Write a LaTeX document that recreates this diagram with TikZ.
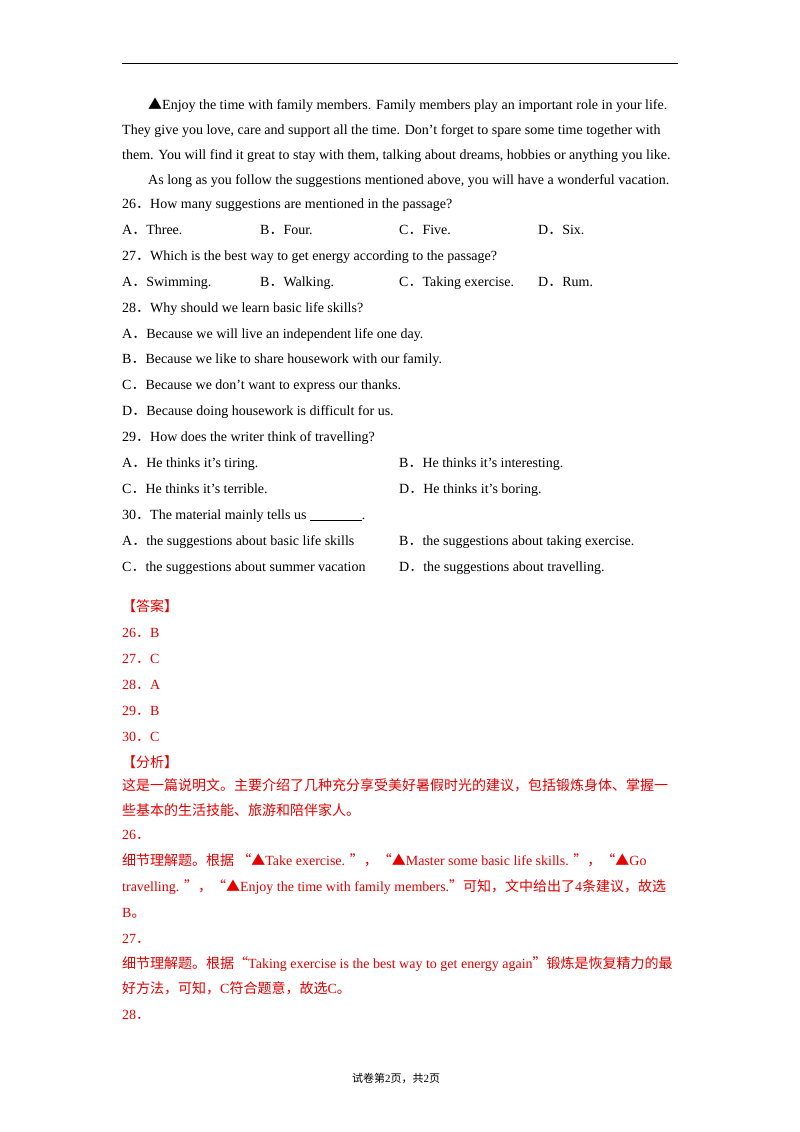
\documentclass[tikz,border=0pt]{standalone}
\usepackage{fontspec}
\setmainfont{Liberation Serif}
\newfontfamily\cj{Noto Sans CJK SC}
\newcommand{\tri}{{\cj ▲}}
\definecolor{ans}{RGB}{230,0,0}
\begin{document}
\begin{tikzpicture}[x=1pt,y=-1pt,
 ln/.style={anchor=base west,inner sep=0pt,font=\fontsize{14}{16}\selectfont},
 rd/.style={ln,text=ans}]
\useasboundingbox (0,0) rectangle (800,1132);
\draw[line width=1pt] (122,64) -- (678,64);
\node[ln] (l1) at (148,109) {\tri Enjoy the time with family members. Family members play an important role in your life.};
\node[ln] (l2) at (122,134) {They give you love, care and support all the time. Don't forget to spare some time together with};
\node[ln] (l3) at (122,159) {them. You will find it great to stay with them, talking about dreams, hobbies or anything you like.};
\node[ln] (l4) at (148,184) {As long as you follow the suggestions mentioned above, you will have a wonderful vacation.};
\node[ln] (q26) at (122,208) {26{\cj ．}How many suggestions are mentioned in the passage?};
\node[ln] (a26a) at (122,234) {A{\cj ．}Three.};
\node[ln] (a26b) at (260,234) {B{\cj ．}Four.};
\node[ln] (a26c) at (399,234) {C{\cj ．}Five.};
\node[ln] (a26d) at (538,234) {D{\cj ．}Six.};
\node[ln] (q27) at (122,260) {27{\cj ．}Which is the best way to get energy according to the passage?};
\node[ln] (a27a) at (122,286) {A{\cj ．}Swimming.};
\node[ln] (a27b) at (260,286) {B{\cj ．}Walking.};
\node[ln] (a27c) at (399,286) {C{\cj ．}Taking exercise.};
\node[ln] (a27d) at (538,286) {D{\cj ．}Rum.};
\node[ln] (q28) at (122,312) {28{\cj ．}Why should we learn basic life skills?};
\node[ln] (a28a) at (122,338) {A{\cj ．}Because we will live an independent life one day.};
\node[ln] (a28b) at (122,363) {B{\cj ．}Because we like to share housework with our family.};
\node[ln] (a28c) at (122,389) {C{\cj ．}Because we don't want to express our thanks.};
\node[ln] (a28d) at (122,415) {D{\cj ．}Because doing housework is difficult for us.};
\node[ln] (q29) at (122,441) {29{\cj ．}How does the writer think of travelling?};
\node[ln] (a29a) at (122,467) {A{\cj ．}He thinks it's tiring.};
\node[ln] (a29b) at (399,467) {B{\cj ．}He thinks it's interesting.};
\node[ln] (a29c) at (122,493) {C{\cj ．}He thinks it's terrible.};
\node[ln] (a29d) at (399,493) {D{\cj ．}He thinks it's boring.};
\node[ln] (q30) at (122,519) {30{\cj ．}The material mainly tells us \underline{\hspace{52pt}}.};
\node[ln] (a30a) at (122,545) {A{\cj ．}the suggestions about basic life skills};
\node[ln] (a30b) at (399,545) {B{\cj ．}the suggestions about taking exercise.};
\node[ln] (a30c) at (122,571) {C{\cj ．}the suggestions about summer vacation};
\node[ln] (a30d) at (399,571) {D{\cj ．}the suggestions about travelling.};
\node[rd] (h1) at (122,611) {\cj 【答案】};
\node[rd] (r26) at (122,637) {26{\cj ．}B};
\node[rd] (r27) at (122,663) {27{\cj ．}C};
\node[rd] (r28) at (122,689) {28{\cj ．}A};
\node[rd] (r29) at (122,715) {29{\cj ．}B};
\node[rd] (r30) at (122,741) {30{\cj ．}C};
\node[rd] (h2) at (122,767) {\cj 【分析】};
\node[rd] (p1) at (122,790) {\cj 这是一篇说明文。主要介绍了几种充分享受美好暑假时光的建议，包括锻炼身体、掌握一};
\node[rd] (p2) at (122,815) {\cj 些基本的生活技能、旅游和陪伴家人。};
\node[rd] (e26) at (122,839) {26{\cj ．}};
\node[rd] (p3) at (122,865) {{\cj 细节理解题。根据 “▲}Take exercise. {\cj ”，“▲}Master some basic life skills. {\cj ”，“▲}Go};
\node[rd] (p4) at (122,891) {travelling. {\cj ”，“▲}Enjoy the time with family members.{\cj ”可知，文中给出了}4{\cj 条建议，故选}};
\node[rd] (p5) at (122,917) {B{\cj 。}};
\node[rd] (e27) at (122,943) {27{\cj ．}};
\node[rd] (p6) at (122,968) {{\cj 细节理解题。根据“}Taking exercise is the best way to get energy again{\cj ”锻炼是恢复精力的最}};
\node[rd] (p7) at (122,993) {{\cj 好方法，可知，}C{\cj 符合题意，故选}C{\cj 。}};
\node[rd] (e28) at (122,1019) {28{\cj ．}};
\node[ln,font=\fontsize{11}{13}\selectfont] (ft) at (352,1082) {{\cj 试卷第}2{\cj 页，共}2{\cj 页}};
\end{tikzpicture}
\end{document}
